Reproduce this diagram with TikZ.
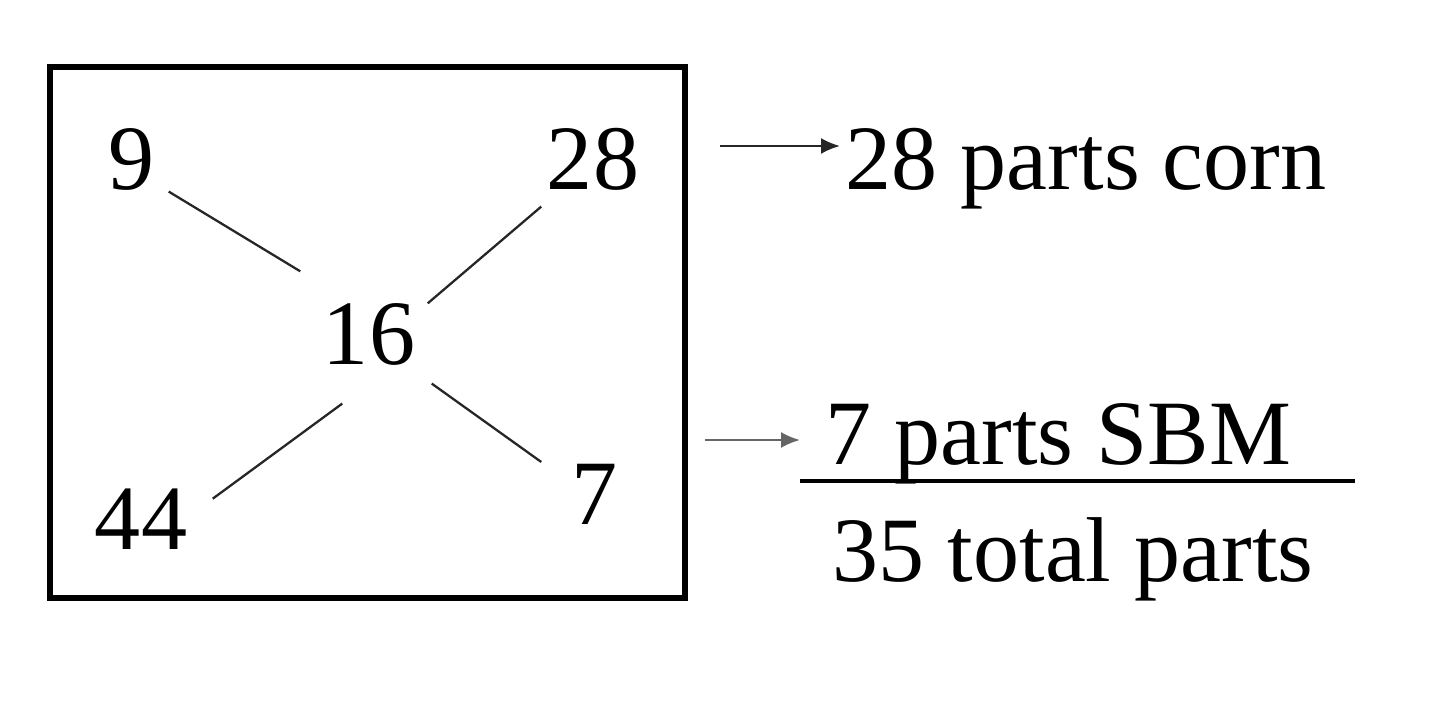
\documentclass[tikz,border=0pt]{standalone}
\usepackage{fontspec}
\setmainfont{Liberation Serif}
\usetikzlibrary{arrows.meta,calc}
\tikzset{>={Latex[length=1.9mm,width=1.6mm]}}
\tikzstyle{num}=[inner sep=0pt,anchor=base,font=\fontsize{26.2}{32}\selectfont]
\tikzstyle{label}=[inner sep=0pt,anchor=base west,font=\fontsize{26.2}{32}\selectfont]
\tikzstyle{link}=[line width=0.65pt,draw=black!85]

\begin{document}
\begin{tikzpicture}
	\useasboundingbox (0,0) rectangle (14.4,-7.11);
	
	% square
	\draw[line width=1.45pt] (0.50,-0.67) rectangle (6.85,-5.98);
	
	\node[num] (n9) at (1.32,-1.90) {9};
	\node[num] (n28) at (5.93,-1.90) {28};
	\node[num] (n16) at (3.69,-3.65) {16};
	\node[num] (n44) at (1.41,-5.50) {44};
	\node[num] (n7) at (5.95,-5.25) {7};
	
	\draw[link] ([xshift=0.13cm]n9.south east) -- ([xshift=-0.22cm,yshift=0.32cm]n16.north west);
	\draw[link] ([xshift=-0.05cm,yshift=-0.15cm]n28.south west) -- ([xshift=0.12cm]n16.north east);
	\draw[link] ([xshift=0.20cm,yshift=-0.37cm]n16.south west) -- ([xshift=0.25cm,yshift=-0.10cm]n44.north east);
	\draw[link] ([xshift=0.16cm,yshift=-0.17cm]n16.south east) -- ([xshift=-0.30cm,yshift=0.02cm]n7.north west);
	
	% right side
	\node[label] (corn) at (8.45,-1.90) {28 parts corn};
	\node[label] (sbm) at (8.25,-4.65) {7 parts SBM};
	\node[label] (total) at (8.32,-5.82) {35 total parts};
	
	\coordinate (arrA) at (7.20,-1.46);
	\coordinate (arrB) at (7.05,-4.40);
	\draw[->,line width=0.65pt,black!85] (arrA) -- ([xshift=-0.05cm]arrA -| corn.west);
	\draw[->,line width=0.65pt,black!60] (arrB) -- ([xshift=-0.25cm]arrB -| sbm.west);
	
	\coordinate (fracL) at (8.00,-4.81);
	\coordinate (fracR) at (13.55,-4.81);
	\draw[line width=0.95pt] (fracL) -- (fracR);
\end{tikzpicture}
\end{document}
